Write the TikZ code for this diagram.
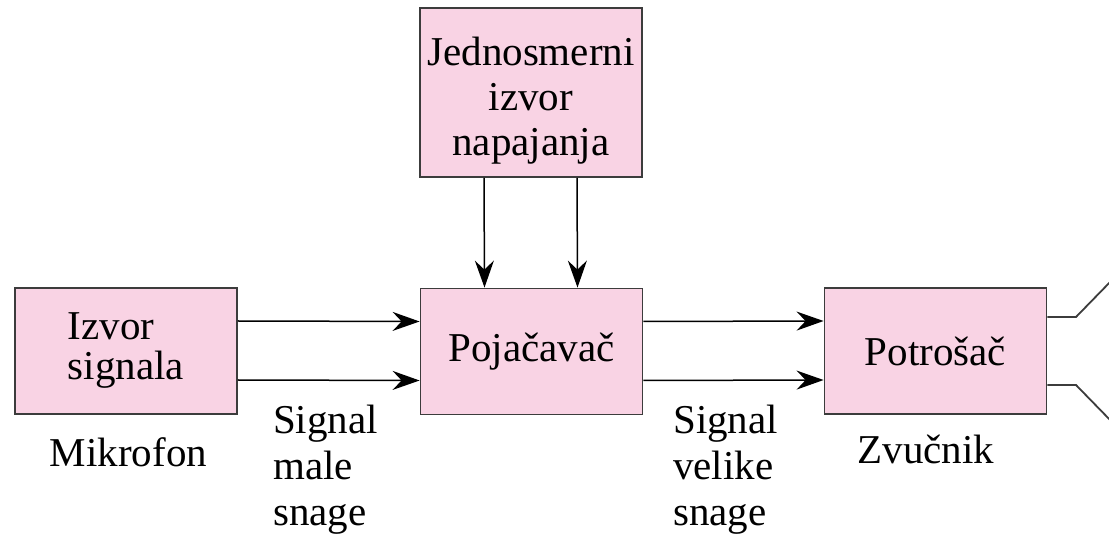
\documentclass[tikz,border=0pt]{standalone}
\usepackage{fontspec}
\setmainfont{Liberation Serif}
\usetikzlibrary{arrows.meta}
\definecolor{boxpink}{RGB}{249,211,228}
\definecolor{boxedge}{RGB}{60,60,60}
\newcommand\diagfont{\fontsize{41}{45}\selectfont}
\newcommand\labfont{\fontsize{41}{46}\selectfont}
\newcommand\srcfont{\fontsize{41}{40}\selectfont}
\begin{document}
\begin{tikzpicture}[x=1pt,y=-1pt,
  blk/.style={draw=boxedge,line width=1.8pt,fill=boxpink,inner sep=0pt,font=\diagfont,align=center,minimum width=222pt,minimum height=126pt},
  lbl/.style={inner sep=0pt,font=\labfont,align=left},
  conn/.style={line width=1.5pt,-{Stealth[length=27pt,width=19pt,inset=9pt]}},
  wire/.style={line width=1.8pt,draw=boxedge}]
\useasboundingbox (0,0) rectangle (1109,534);
\node[blk,minimum height=169pt] (dc) at (531,92.5) {\rule{0pt}{45pt}Jednosmerni\\izvor\\napajanja};
\node[blk,font=\srcfont,align=left] (src) at (126,351) {Izvor\\signala};
\node[blk] (amp) at (531.5,351.5) {Pojačavač};
\node[blk] (load) at (935.5,351) {Potrošač};
\draw[conn] ([xshift=-47pt]dc.south) -- ([xshift=-47pt]amp.north);
\draw[conn] ([xshift=46pt]dc.south) -- ([xshift=46pt]amp.north);
\draw[conn] ([yshift=30pt]src.east) -- ([yshift=30pt]amp.west);
\draw[conn] ([yshift=-29pt]src.east) -- ([yshift=-29pt]amp.west);
\draw[conn] ([yshift=30pt]amp.east) -- ([yshift=30pt]load.west);
\draw[conn] ([yshift=-29pt]amp.east) -- ([yshift=-29pt]load.west);
\coordinate (k1) at (1076,317);
\coordinate (e1) at (1114,278);
\coordinate (k2) at (1076,385);
\coordinate (e2) at (1114,424);
\draw[wire] ([yshift=34pt]load.east) -- (k1) -- (e1);
\draw[wire] ([yshift=-34pt]load.east) -- (k2) -- (e2);
\node[lbl,anchor=base] (mic) at (128.5,467) {Mikrofon};
\node[lbl,anchor=base] (spk) at (926,464) {Zvučnik};
\node[lbl,anchor=north west] (small) at (273,405) {Signal\\male\\snage};
\node[lbl,anchor=north west] (large) at (673,405) {Signal\\velike\\snage};
\end{tikzpicture}
\end{document}
